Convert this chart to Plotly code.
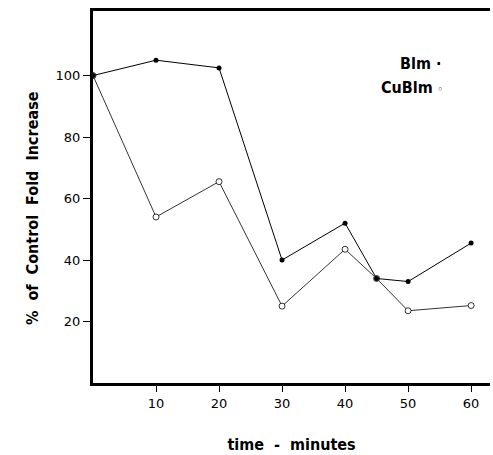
import plotly.graph_objects as go

time_min = [0, 10, 20, 30, 40, 45, 50, 60]
blm = [100, 105, 102.5, 40, 52, 34, 33, 45.5]
cublm = [100, 54, 65.5, 25, 43.5, 34, 23.5, 25.2]
x_ticks = [10, 20, 30, 40, 50, 60]
y_ticks = [20, 40, 60, 80, 100]

fig = go.Figure()
fig.add_trace(go.Scatter(
    x=time_min, y=cublm, mode="lines+markers", name="CuBlm",
    line=dict(color="black", width=0.8),
    marker=dict(symbol="circle", size=6, color="white", line=dict(color="black", width=0.8)),
    cliponaxis=False))
fig.add_trace(go.Scatter(
    x=time_min, y=blm, mode="lines+markers", name="Blm",
    line=dict(color="black", width=1),
    marker=dict(symbol="circle", size=5, color="black"),
    cliponaxis=False))

font_tick = dict(family="DejaVu Sans, sans-serif", size=13, color="black")
font_title = dict(family="DejaVu Sans Condensed, Liberation Sans Narrow, sans-serif", size=16, color="black")

sp = "&nbsp;&nbsp;"
ytitle = "<b>%" + sp + "of" + sp + "Control" + sp + "Fold" + sp + "Increase</b>"

fig.update_layout(
    width=493, height=455,
    margin=dict(l=93, r=3, t=11, b=65),
    paper_bgcolor="white", plot_bgcolor="white",
    showlegend=False,
    xaxis=dict(range=[0, 63], tickvals=x_ticks, showgrid=False, zeroline=False,
               showline=True, linecolor="black", linewidth=3, mirror=True,
               ticks="outside", ticklen=6, tickcolor="black", tickfont=font_tick,
               title=dict(text="<b>time&nbsp;&nbsp;-&nbsp;&nbsp;minutes</b>", font=font_title, standoff=30)),
    yaxis=dict(range=[0, 121], tickvals=y_ticks, showgrid=False, zeroline=False,
               showline=True, linecolor="black", linewidth=3,
               ticks="outside", ticklen=7, tickcolor="black", tickfont=font_tick),
)

fig.add_annotation(xref="paper", yref="paper", x=-0.154, y=0.47, xanchor="center", yanchor="middle",
                   textangle=-90, text=ytitle, showarrow=False, font=font_title)
fig.add_annotation(xref="x", yref="y", x=55.6, y=104, xanchor="right", yanchor="middle",
                   text="<b>Blm ·</b>", showarrow=False, font=font_title)
fig.add_annotation(xref="x", yref="y", x=55.9, y=96, xanchor="right", yanchor="middle",
                   text="<b>CuBlm</b>&nbsp;<span style='font-size:11px'>◦</span>", showarrow=False, font=font_title)

fig.write_html("out.html")
